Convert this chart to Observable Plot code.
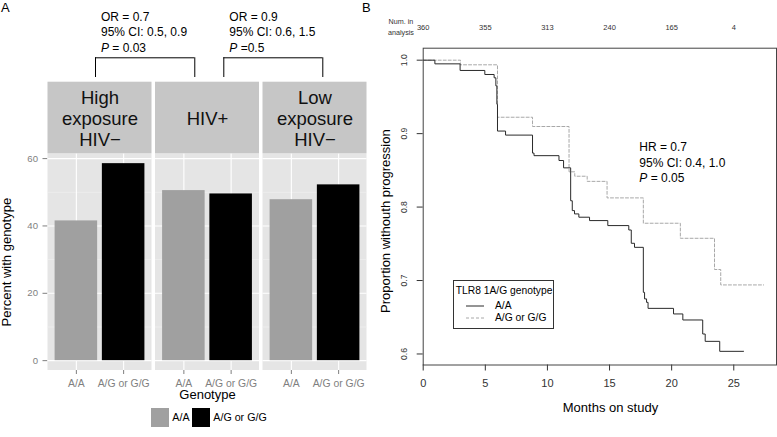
<!DOCTYPE html>
<html><head><meta charset="utf-8">
<script src="https://cdn.jsdelivr.net/npm/d3@7"></script>
<script src="https://cdn.jsdelivr.net/npm/@observablehq/plot@0.6"></script>
<style>
body{margin:0;background:#fff;font-family:"Liberation Sans",Arial,Helvetica,sans-serif;color:#000;}
#wrap{position:relative;width:777px;height:437px;overflow:hidden;background:#fff;}
.abs{position:absolute;white-space:nowrap;}
#plotA [aria-label^="y-axis"]{color:#7f7f7f;}
#plotB [aria-label^="x-axis"],#plotB [aria-label^="y-axis"]{color:#333;}
</style></head>
<body><div id="wrap"></div>
<script>
// ---------- data: panel A ----------
const groups = ["High\nexposure\nHIV−", "HIV+", "Low\nexposure\nHIV−"];
const genotypes = ["A/A", "A/G or G/G"];
const pctAA = [41.5, 50.5, 47.8];
const pctAG = [58.5, 49.5, 52.2];
const yTicksA = [0, 20, 40, 60];
const comparisons = [
  {from: 0, to: 1, lines: ["OR = 0.7", "95% CI: 0.5, 0.9", "<i>P</i> = 0.03"]},
  {from: 1, to: 2, lines: ["OR = 0.9", "95% CI: 0.6, 1.5", "<i>P</i> =0.5"]}
];
// ---------- data: panel B ----------
const kmAA_t = [0, 0.94, 2.97, 4.96, 5.71, 5.85, 5.93, 5.98, 6.63, 8.8, 8.92, 10.93, 11.3, 11.87, 12.0, 12.18, 12.53, 13.39, 14.86, 16.55, 16.75, 17.01, 17.72, 17.82, 17.98, 18.1, 20.15, 20.9, 22.5, 22.7, 23.87, 25.8];
const kmAA_s = [1.0, 0.995, 0.986, 0.9805, 0.976, 0.965, 0.94, 0.9035, 0.898, 0.8735, 0.870, 0.8634, 0.8534, 0.8086, 0.7952, 0.7907, 0.7862, 0.7816, 0.7748, 0.7688, 0.7507, 0.7452, 0.6839, 0.675, 0.6703, 0.6621, 0.6545, 0.6463, 0.6272, 0.6172, 0.6036, 0.6036];
const kmAG_t = [0, 3.0, 5.98, 8.8, 11.74, 12.2, 13.2, 14.8, 17.72, 20.7, 23.45, 23.95, 27.4];
const kmAG_s = [1.0, 0.9937, 0.9223, 0.9097, 0.848, 0.842, 0.835, 0.8125, 0.778, 0.7575, 0.715, 0.694, 0.694];
const riskMonths = [0, 5, 10, 15, 20, 25];
const riskCounts = [360, 355, 313, 240, 165, 4];
const seriesB = ["A/A", "A/G or G/G"];
const statsB = ["HR = 0.7", "95% CI: 0.4, 1.0", "<i>P</i> = 0.05"];

// ---------- helpers ----------
const FONT = '"Liberation Sans", Arial, Helvetica, sans-serif';
const wrap = document.getElementById("wrap");
function addText(html, left, cy, size, lh, extra = {}) {
  const d = document.createElement("div");
  d.className = "abs";
  d.innerHTML = html;
  Object.assign(d.style, {left: left + "px", top: (cy - lh / 2) + "px", fontSize: size + "px", lineHeight: lh + "px"}, extra);
  wrap.appendChild(d);
  return d;
}
function addBox(left, top, w, h, style) {
  const d = document.createElement("div");
  d.className = "abs";
  Object.assign(d.style, {left: left + "px", top: top + "px", width: w + "px", height: h + "px", boxSizing: "border-box"}, style);
  wrap.appendChild(d);
  return d;
}

// ---------- panel A ----------
const PW = 2.2, GAP = 0.074, HALF = 0.45;
const start = i => i * (PW + GAP);
const center = i => start(i) + PW / 2;
const barX = (i, j) => start(i) + 0.6 + j;
const panels = groups.map((g, i) => ({g, i}));
const rows = groups.flatMap((g, i) => genotypes.map((gt, j) => ({i, j, gt, pct: (j ? pctAG : pctAA)[i]})));
const yMaxA = d3.max(rows, d => d.pct);
const yDomA = [-0.05 * yMaxA, yMaxA * 1.05];
const majorA = panels.flatMap(p => yTicksA.map(v => ({i: p.i, v})));
const minorA = panels.flatMap(p => d3.range(1, yTicksA.length).map(k => ({i: p.i, v: (yTicksA[k - 1] + yTicksA[k]) / 2})));
const bracketShift = [[-0.095, -0.269], [0.345, 0.165]];
const brackets = comparisons.map((c, k) => ({k, x1: center(c.from) + bracketShift[k][0], x2: center(c.to) + bracketShift[k][1]}));
const bracketEnds = brackets.flatMap(b => [{x: b.x1}, {x: b.x2}]);

const plotA = Plot.plot({
  width: 370, height: 400,
  marginLeft: 47.5, marginRight: 3.5, marginTop: 153.3, marginBottom: 30,
  style: {fontFamily: FONT, fontSize: "9.6px", background: "transparent", position: "absolute", left: "0px", top: "0px", overflow: "visible"},
  x: {domain: [0, start(groups.length - 1) + PW], axis: null},
  y: {domain: yDomA, ticks: 4, tickSize: 5, tickPadding: 5, label: null},
  color: {domain: genotypes, range: ["#a0a0a0", "#000000"]},
  marks: [
    Plot.rect(panels, {x1: d => start(d.i), x2: d => start(d.i) + PW, y1: yDomA[0], y2: yDomA[1], fill: "#e5e5e5"}),
    Plot.ruleY(minorA, {y: "v", x1: d => start(d.i), x2: d => start(d.i) + PW, stroke: "#f2f2f2", strokeWidth: 0.6}),
    Plot.ruleY(majorA, {y: "v", x1: d => start(d.i), x2: d => start(d.i) + PW, stroke: "#ffffff", strokeWidth: 1.1}),
    Plot.ruleX(rows, {x: d => barX(d.i, d.j), y1: yDomA[0], y2: yDomA[1], stroke: "#ffffff", strokeWidth: 1.1}),
    Plot.rect(rows, {x1: d => barX(d.i, d.j) - HALF, x2: d => barX(d.i, d.j) + HALF, y1: 0, y2: "pct", fill: "gt"}),
    // strips above each panel
    Plot.rect(panels, {x1: d => start(d.i), x2: d => start(d.i) + PW, y1: yDomA[1], y2: yDomA[1], insetTop: -71.6, fill: "#c6c6c6"}),
    Plot.text(panels, {x: d => center(d.i), text: "g", frameAnchor: "top", lineAnchor: "middle", dy: -35.5, fontSize: 18.5, lineHeight: 1.13, fill: "#111"}),
    // x ticks and labels
    Plot.ruleX(rows, {x: d => barX(d.i, d.j), y1: yDomA[0], y2: yDomA[0], insetBottom: -4, stroke: "#7f7f7f"}),
    Plot.text(rows, {x: d => barX(d.i, d.j), text: "gt", frameAnchor: "bottom", lineAnchor: "middle", dy: 12.7, fill: "#7f7f7f", fontSize: 10.4}),
    Plot.text(["Genotype"], {text: d => d, frameAnchor: "bottom", lineAnchor: "middle", dy: 24.3, fontSize: 13, fill: "#000"}),
    Plot.text(["Percent with genotype"], {text: d => d, frameAnchor: "left", textAnchor: "middle", lineAnchor: "middle", dx: -40.8, rotate: -90, fontSize: 13, fill: "#000"}),
    // comparison brackets
    Plot.ruleY(brackets, {y: yDomA[1], x1: "x1", x2: "x2", dy: -96, stroke: "#000"}),
    Plot.ruleX(bracketEnds, {x: "x", y1: yDomA[1], y2: yDomA[1], insetTop: -96, insetBottom: 76.3, stroke: "#000"})
  ]
});
plotA.id = "plotA";
wrap.appendChild(plotA);

const sxA = plotA.scale("x");
const fxA = d3.scaleLinear(sxA.domain, sxA.range);
comparisons.forEach((c, k) => {
  addText(c.lines.join("<br>"), fxA(brackets[k].x1) + 6, 17.3, 12, 15.5);
});

// legend A
const legA = [{x: 151, tx: 172.3}, {x: 192.3, tx: 213.3}];
genotypes.forEach((g, k) => {
  addBox(legA[k].x, 408.3, 17.5, 18.4, {background: k ? "#000" : "#a0a0a0"});
  addText(g, legA[k].tx, 417.7, 10.7, 13);
});
addText("A", 1, 8, 13, 14);

// ---------- panel B ----------
const kmAA = kmAA_t.map((t, i) => ({t, s: kmAA_s[i]}));
const kmAG = kmAG_t.map((t, i) => ({t, s: kmAG_s[i]}));
const risk = riskMonths.map((m, i) => ({m, n: riskCounts[i]}));

const plotB = Plot.plot({
  width: 407, height: 437,
  marginLeft: 52.7, marginRight: 1, marginTop: 47.7, marginBottom: 72.5,
  style: {fontFamily: FONT, fontSize: "11px", background: "transparent", position: "absolute", left: "370px", top: "0px", overflow: "visible"},
  x: {domain: [0, 28.44], ticks: 6, tickSize: 6, tickPadding: 8, label: null},
  y: {domain: [0.585, 1.0163], ticks: 5, tickSize: 6, tickFormat: () => "", label: null},
  marks: [
    Plot.line(kmAG, {x: "t", y: "s", curve: "step-after", stroke: "#a8a8a8", strokeWidth: 1, strokeDasharray: "3,2"}),
    Plot.line(kmAA, {x: "t", y: "s", curve: "step-after", stroke: "#2a2a2a", strokeWidth: 1}),
    Plot.frame({stroke: "#444"}),
    Plot.text(d3.ticks(0.6, 1.0, 4), {y: d => d, text: d => d.toFixed(1), frameAnchor: "left", textAnchor: "middle", lineAnchor: "middle", dx: -19, rotate: -90, fontSize: 8.6, fill: "#333"}),
    Plot.text(risk, {x: "m", text: d => String(d.n), frameAnchor: "top", textAnchor: "middle", lineAnchor: "middle", dy: -21, fontSize: 7.5, fill: "#333"}),
    Plot.text(["Months on study"], {text: d => d, frameAnchor: "bottom", lineAnchor: "middle", dx: 10.6, dy: 43.2, fontSize: 13, fill: "#000"}),
    Plot.text(["Proportion withouth progression"], {text: d => d, frameAnchor: "left", textAnchor: "middle", lineAnchor: "middle", dx: -37.7, dy: 14.5, rotate: -90, fontSize: 13, fill: "#000"})
  ]
});
plotB.id = "plotB";
wrap.appendChild(plotB);

addText("Num. in<br>analysis", 388, 21.5, 7.2, 11, {textAlign: "center", color: "#333"});
addText("B", 362, 8, 13, 14);
addText(statsB.join("<br>"), 639.3, 148, 12, 15.5);

// legend B
addBox(453.3, 280, 101, 49, {border: "1px solid #333", background: "#fff"});
addText("TLR8 1A/G genotype", 455.7, 290.5, 10.3, 12);
const legBy = [305.7, 317.7];
seriesB.forEach((s, k) => {
  const sv = document.createElementNS("http://www.w3.org/2000/svg", "svg");
  sv.setAttribute("width", "20"); sv.setAttribute("height", "4");
  sv.style.position = "absolute"; sv.style.left = "466px"; sv.style.top = (legBy[k] - 2) + "px";
  sv.innerHTML = k ? '<line x1="0" x2="18" y1="2" y2="2" stroke="#a8a8a8" stroke-dasharray="3,2"/>' : '<line x1="0" x2="18" y1="2" y2="2" stroke="#2a2a2a"/>';
  wrap.appendChild(sv);
  addText(s, 495, legBy[k], 10.3, 12);
});
</script>
</body></html>
